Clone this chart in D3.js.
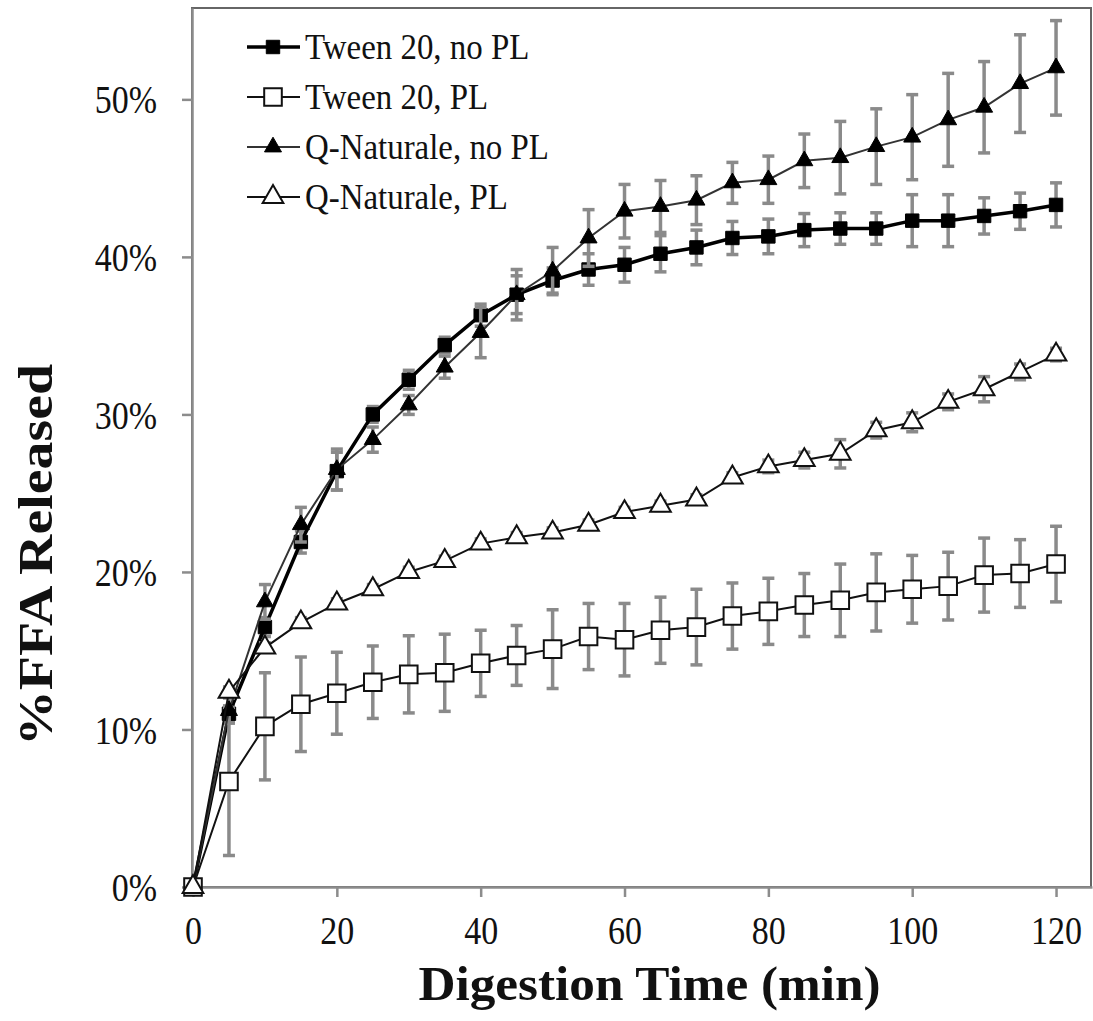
<!DOCTYPE html>
<html>
<head>
<meta charset="utf-8">
<script src="https://cdn.jsdelivr.net/npm/d3@7"></script>
<style>
  html, body { margin: 0; padding: 0; background: #fff; }
  svg { display: block; }
  text { font-family: "Liberation Serif", "DejaVu Serif", serif; fill: #111; }
</style>
</head>
<body>
<svg id="chart" width="1093" height="1021"></svg>
<script>
// ---- data ----
const times = [0,5,10,15,20,25,30,35,40,45,50,55,60,65,70,75,80,85,90,95,100,105,110,115,120];

const seriesNames = ["Tween 20, no PL", "Tween 20, PL", "Q-Naturale, no PL", "Q-Naturale, PL"];

const tweenNoPL    = [0,11.0,16.5,21.9,26.4,30.0,32.2,34.4,36.3,37.6,38.5,39.2,39.5,40.2,40.6,41.2,41.3,41.7,41.8,41.8,42.3,42.3,42.6,42.9,43.3];
const tweenNoPLErr = [0,0.5,0.6,0.7,1.2,0.5,0.6,0.5,0.7,1.2,0.8,1.0,1.1,1.15,1.1,1.05,1.1,1.05,1.0,1.0,1.65,1.65,1.15,1.15,1.4];

const tweenPL      = [0,6.7,10.2,11.6,12.3,13.0,13.5,13.6,14.2,14.7,15.1,15.9,15.7,16.3,16.5,17.2,17.5,17.9,18.2,18.7,18.9,19.1,19.8,19.9,20.5];
const tweenPLErr   = [0,4.7,3.4,3.0,2.6,2.3,2.45,2.45,2.1,1.9,2.5,2.1,2.3,2.1,2.4,2.1,2.1,2.0,2.3,2.45,2.15,2.15,2.35,2.15,2.4];

const qnNoPL       = [0,11.2,18.1,23.0,26.5,28.4,30.6,33.0,35.2,37.6,39.1,41.2,42.9,43.2,43.6,44.7,44.9,46.1,46.3,47.0,47.6,48.7,49.5,51.0,52.0];
const qnNoPLErr    = [0,0.8,1.1,1.1,1.3,0.8,0.6,0.7,1.6,1.6,1.5,1.8,1.7,1.65,1.55,1.3,1.5,1.7,2.3,2.4,2.7,2.95,2.9,3.1,3.0];

const qnPL         = [0,12.4,15.2,16.8,18.0,18.9,20.0,20.7,21.8,22.2,22.5,23.0,23.8,24.2,24.6,26.0,26.7,27.1,27.5,29.0,29.5,30.8,31.6,32.7,33.8];
const qnPLErr      = [0,0.3,0.3,0.3,0.3,0.3,0.3,0.3,0.3,0.3,0.3,0.3,0.3,0.3,0.3,0.3,0.4,0.5,0.9,0.5,0.6,0.5,0.8,0.5,0.4];

const yTicks = [0,10,20,30,40,50];
const xTicks = [0,20,40,60,80,100,120];

// ---- layout ----
const svg = d3.select("#chart");
const x = d3.scaleLinear().domain([0,125]).range([193,1092]);
const y = d3.scaleLinear().domain([0,55.8]).range([887,8]);

const axisGrey = "#8c8c8c";
const errGrey = "#8a8a8a";

// condense text horizontally to mimic the narrow serif of the original
function condense(sel, factor) {
  sel.each(function() {
    const w = this.getComputedTextLength();
    d3.select(this).attr("textLength", w * factor).attr("lengthAdjust", "spacingAndGlyphs");
  });
}

// frame (top/right)
svg.append("rect")
  .attr("x", x(0)-1).attr("y", y(55.8))
  .attr("width", x(125)-x(0)).attr("height", y(0)-y(55.8))
  .attr("fill", "none").attr("stroke", "#666").attr("stroke-width", 2);

// axes
const yAxis = d3.axisLeft(y).tickValues(yTicks).tickFormat(d => d + "%").tickSize(10).tickSizeOuter(0).tickPadding(25);
const gy = svg.append("g").attr("transform", `translate(${x(0)-1},0)`).call(yAxis);
gy.select(".domain").attr("stroke", axisGrey).attr("stroke-width", 2.5);
gy.selectAll(".tick line").attr("stroke", axisGrey).attr("stroke-width", 2.5);
gy.selectAll(".tick text").attr("font-size", 40).attr("fill", "#111").attr("dy", "0.34em")
  .style("font-family", '"Liberation Serif", serif');
condense(gy.selectAll(".tick text"), 0.85);

const xAxis = d3.axisBottom(x).tickValues(xTicks).tickSize(10).tickSizeOuter(0).tickPadding(19);
const gx = svg.append("g").attr("transform", `translate(0,${y(0)})`).call(xAxis);
gx.select(".domain").attr("stroke", axisGrey).attr("stroke-width", 2.5);
gx.selectAll(".tick line").attr("stroke", axisGrey).attr("stroke-width", 2.5);
gx.selectAll(".tick text").attr("font-size", 40).attr("fill", "#111")
  .style("font-family", '"Liberation Serif", serif');
condense(gx.selectAll(".tick text"), 0.85);

// axis titles
svg.append("text")
  .attr("x", (x(0)+x(125))/2 + 7).attr("y", 1000)
  .attr("text-anchor", "middle").attr("font-weight", "bold").attr("font-size", 48)
  .attr("textLength", 462).attr("lengthAdjust", "spacingAndGlyphs")
  .text("Digestion Time (min)");

svg.append("text")
  .attr("transform", `translate(52,${(365+745)/2}) rotate(-90)`)
  .attr("text-anchor", "middle").attr("font-weight", "bold").attr("font-size", 48)
  .attr("textLength", 382).attr("lengthAdjust", "spacingAndGlyphs")
  .text("%FFA Released");

// series definitions
const series = [
  {name: seriesNames[0], vals: tweenNoPL, err: tweenNoPLErr, sym: d3.symbolSquare, size: 180, fill: "#000", stroke: "#000", sw: 1, line: "#000", lw: 3.5},
  {name: seriesNames[1], vals: tweenPL, err: tweenPLErr, sym: d3.symbolSquare, size: 310, fill: "#fff", stroke: "#111", sw: 2, line: "#111", lw: 2},
  {name: seriesNames[2], vals: qnNoPL, err: qnNoPLErr, sym: d3.symbolTriangle, size: 125, fill: "#000", stroke: "#000", sw: 1, line: "#333", lw: 2},
  {name: seriesNames[3], vals: qnPL, err: qnPLErr, sym: d3.symbolTriangle, size: 185, fill: "#fff", stroke: "#111", sw: 2, line: "#111", lw: 2},
];

const line = d3.line().x(d => x(d.t)).y(d => y(d.v));

series.forEach(s => {
  const pts = times.map((t,i) => ({t, v: s.vals[i], e: s.err[i]}));
  const g = svg.append("g");
  // error bars
  const eb = g.append("g").selectAll("g").data(pts.filter(p => p.e > 0)).join("g");
  eb.append("line")
    .attr("x1", d => x(d.t)).attr("x2", d => x(d.t))
    .attr("y1", d => y(d.v - d.e)).attr("y2", d => y(d.v + d.e))
    .attr("stroke", errGrey).attr("stroke-width", 3.5);
  [-1, 1].forEach(sg => {
    eb.append("line")
      .attr("x1", d => x(d.t) - 6).attr("x2", d => x(d.t) + 6)
      .attr("y1", d => y(d.v + sg*d.e)).attr("y2", d => y(d.v + sg*d.e))
      .attr("stroke", errGrey).attr("stroke-width", 3.5);
  });
  // line
  g.append("path").datum(pts).attr("d", line)
    .attr("fill", "none").attr("stroke", s.line).attr("stroke-width", s.lw);
  // markers
  g.append("g").selectAll("path").data(pts).join("path")
    .attr("transform", d => `translate(${x(d.t)},${y(d.v)})`)
    .attr("d", d3.symbol().type(s.sym).size(s.size))
    .attr("fill", s.fill).attr("stroke", s.stroke).attr("stroke-width", s.sw);
});

// legend
const legY = [47, 97, 147, 197];
const leg = svg.append("g");
series.forEach((s, i) => {
  const gl = leg.append("g").attr("transform", `translate(0,${legY[i]})`);
  gl.append("line").attr("x1", 247).attr("x2", 300).attr("y1", 0).attr("y2", 0)
    .attr("stroke", s.line).attr("stroke-width", s.lw);
  gl.append("path").attr("transform", "translate(273,0)")
    .attr("d", d3.symbol().type(s.sym).size(s.size))
    .attr("fill", s.fill).attr("stroke", s.stroke).attr("stroke-width", s.sw);
  const t = gl.append("text").attr("x", 305).attr("y", 0).attr("dy", "0.35em")
    .attr("font-size", 35)
    .text(s.name);
  condense(t, 0.94);
});
</script>
</body>
</html>
